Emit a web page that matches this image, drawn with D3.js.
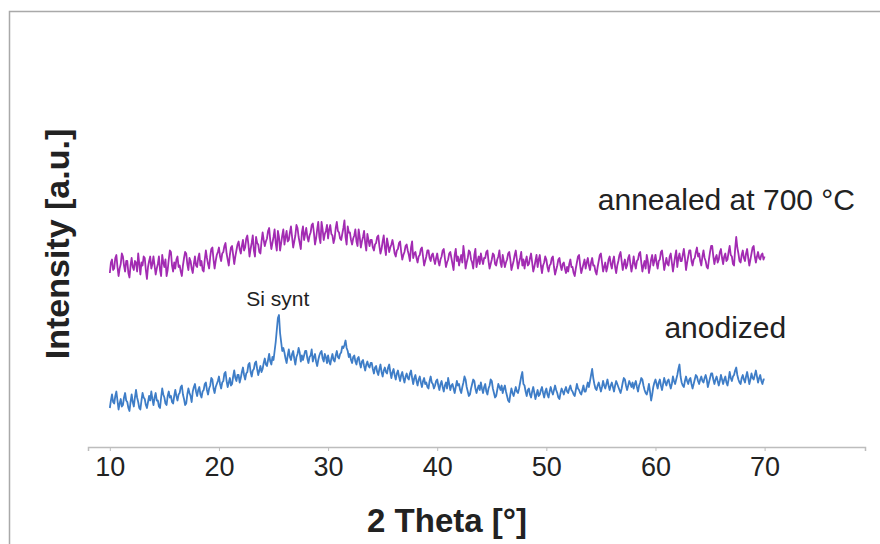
<!DOCTYPE html>
<html>
<head>
<meta charset="utf-8">
<script src="https://cdn.jsdelivr.net/npm/d3@7"></script>
<style>
  html, body { margin: 0; padding: 0; background: #fff; }
  svg { display: block; }
</style>
</head>
<body>
<svg id="chart"></svg>
<script>
// 2 theta from 10 to 70 deg, step 0.1
const thetaStart = 10, thetaStep = 0.1;
const xTicks = [10, 20, 30, 40, 50, 60, 70];

// annealed at 700 °C (intensity, a.u.), one row = 2 deg
const annealed = [
  116,123,125,118,119,126,128,120,114,119,122,129,127,121,117,124,124,116,113,121,
  126,120,118,124,123,117,129,122,115,123,121,127,126,118,112,120,124,127,119,122,
  127,121,115,119,122,127,118,114,128,123,120,125,114,118,125,131,130,121,117,123,
  119,125,127,120,121,117,114,121,126,130,129,122,118,126,124,119,116,122,127,121,
  120,126,129,121,124,118,117,125,131,126,122,119,127,132,133,125,119,124,128,130,
  133,127,124,129,130,134,136,129,125,121,128,133,134,128,122,127,131,135,137,132,
  129,134,138,131,133,139,141,135,127,132,136,141,131,127,140,136,135,130,129,137,
  143,138,134,137,139,144,146,138,132,136,140,145,136,131,144,140,131,136,141,145,
  135,140,144,137,138,143,147,140,133,137,141,148,146,140,136,132,143,147,138,142,
  146,140,137,141,143,148,149,143,135,139,145,150,140,136,150,145,138,142,144,148,
  139,145,148,142,141,136,139,146,150,144,143,139,138,142,146,151,140,135,147,143,
  143,138,135,139,141,145,137,134,145,140,133,137,140,144,136,131,142,138,134,138,
  138,133,131,135,136,140,141,134,129,132,137,141,133,128,139,135,130,133,135,138,
  134,129,127,131,132,136,137,130,125,128,130,134,135,131,128,124,133,137,126,129,
  130,126,123,127,128,132,133,127,121,124,127,131,131,126,124,128,129,125,122,126,
  129,124,121,125,127,131,132,126,120,123,125,129,130,126,122,118,128,132,124,127,
  121,125,128,123,134,128,119,123,126,131,130,125,123,119,128,132,120,124,127,122,
  129,125,122,126,126,130,131,124,119,122,125,129,128,122,121,125,127,131,123,120,
  128,124,120,123,125,129,130,125,118,121,124,128,131,125,119,123,126,130,121,125,
  119,124,127,121,122,126,129,123,117,120,124,128,120,125,128,121,116,121,123,127,
  125,120,117,121,122,126,127,120,115,118,121,125,126,121,118,122,123,119,116,120,
  117,122,125,120,120,116,114,119,123,127,128,121,116,119,122,125,119,123,126,121,
  118,123,126,121,121,117,115,120,124,128,129,123,117,120,123,117,120,125,127,122,
  119,124,127,120,116,121,124,128,130,124,118,122,125,119,121,126,128,122,117,121,
  127,122,119,124,125,129,130,123,117,121,124,119,128,124,116,120,125,128,121,124,
  128,123,119,124,125,130,131,125,118,122,126,122,121,127,129,123,117,122,127,131,
  120,126,129,124,124,128,132,126,118,123,127,131,131,124,121,125,126,130,133,127,
  129,124,121,127,131,126,124,120,119,125,130,134,134,127,122,126,128,123,125,130,
  132,126,122,127,129,124,125,130,134,128,127,122,121,132,140,133,129,124,123,128,
  131,126,124,129,132,126,121,125,129,133,134,127,123,127,130,126,125,128,129,125,
  127
];

// anodized (intensity, a.u.), one row = 2 deg
const anodized = [
  26,31,35,30,29,34,37,31,25,29,32,27,28,33,36,31,30,26,24,30,
  35,30,27,33,38,33,30,26,25,31,36,33,32,28,26,30,34,31,37,32,
  28,33,36,31,31,27,26,33,39,35,33,29,28,34,37,33,34,30,29,34,
  38,34,31,35,36,40,41,35,32,28,29,35,39,36,34,30,37,40,42,37,
  34,38,40,35,33,37,38,42,43,38,35,39,41,46,45,39,36,40,42,44,
  47,42,39,43,44,49,50,44,40,43,46,41,42,47,51,46,44,48,48,43,
  46,50,53,48,45,49,50,55,56,50,47,51,52,56,57,52,48,51,54,50,
  52,56,59,55,54,58,62,57,55,60,58,64,70,78,86,88,76,70,64,66,
  63,59,56,61,65,60,58,62,64,59,55,60,62,66,63,57,61,58,61,64,
  64,59,56,60,61,65,57,60,62,57,54,58,61,63,64,59,57,62,60,56,
  61,57,55,59,62,58,57,61,64,60,59,62,63,67,66,68,71,66,64,60,
  62,58,56,60,61,57,55,59,60,56,53,57,58,54,51,55,57,54,53,56,
  56,52,49,53,54,50,48,52,55,50,47,51,53,50,49,53,55,50,46,50,
  52,48,45,49,51,47,44,48,50,46,43,47,49,46,45,49,51,46,42,46,
  48,44,41,45,47,43,40,44,46,42,43,40,39,44,47,43,42,39,41,44,
  45,41,38,42,44,40,37,41,43,39,46,42,38,41,42,39,36,40,44,41,
  42,38,36,40,43,47,45,40,37,34,35,39,42,45,44,39,36,39,41,38,
  43,39,36,40,42,37,35,39,41,45,44,39,36,33,34,38,42,40,38,41,
  36,39,41,37,34,31,30,35,39,36,34,37,40,37,36,39,43,47,50,42,
  41,37,34,38,39,35,33,37,40,36,32,35,38,34,35,38,40,36,33,37,
  39,35,33,37,40,37,35,38,41,38,36,33,32,36,39,37,35,38,40,37,
  36,39,41,38,37,35,34,38,42,39,38,36,35,38,41,37,37,40,43,40,
  44,48,52,46,42,39,38,41,43,40,37,40,44,41,39,42,45,41,38,41,
  43,40,37,41,44,42,40,38,36,39,43,46,45,41,38,41,44,42,40,43,
  39,42,44,40,37,41,43,46,45,41,38,36,35,38,42,37,31,35,40,43,
  45,42,39,43,45,41,38,42,46,43,41,44,45,42,39,42,47,44,42,45,
  48,52,55,47,43,41,40,44,47,44,42,45,46,42,39,42,45,48,47,44,
  42,45,47,44,43,46,48,45,40,43,46,49,49,45,42,45,47,44,41,44,
  48,45,42,45,47,43,41,45,50,46,44,47,48,51,53,48,45,43,42,46,
  48,45,43,47,50,46,42,45,49,46,45,48,51,47,43,46,48,44,42,45,
  45
];

const seriesNames = ['annealed at 700 °C', 'anodized'];
const seriesColors = ['#a22bb2', '#3e7dc7'];

const width = 880, height = 544;

const svg = d3.select('#chart')
  .attr('width', width)
  .attr('height', height);

// outer frame
svg.append('rect')
  .attr('x', 9.5)
  .attr('y', 11.5)
  .attr('width', 900)
  .attr('height', 600)
  .attr('fill', 'none')
  .attr('stroke', '#a9a9a9')
  .attr('stroke-width', 1.5);

const x = d3.scaleLinear().domain([8, 79.2]).range([88, 865]);
const y = d3.scaleLinear().domain([0, 200]).range([447, 147]);

const toPoints = (arr) => arr.map((v, i) => ({theta: thetaStart + i * thetaStep, value: v}));

const line = d3.line()
  .x(d => x(d.theta))
  .y(d => y(d.value));

[annealed, anodized].forEach((arr, i) => {
  svg.append('path')
    .datum(toPoints(arr))
    .attr('fill', 'none')
    .attr('stroke', seriesColors[i])
    .attr('stroke-width', 1.8)
    .attr('stroke-linejoin', 'round')
    .attr('d', line);
});

// x axis
const xAxis = svg.append('g')
  .attr('transform', `translate(0, ${y(0)})`)
  .call(d3.axisBottom(x).tickValues(xTicks).tickSize(4).tickPadding(6));

xAxis.select('.domain')
  .attr('stroke', '#bdbdbd')
  .attr('stroke-width', 1.5);
xAxis.selectAll('.tick line')
  .attr('stroke', '#bdbdbd');
xAxis.selectAll('.tick text')
  .attr('fill', '#222')
  .style('font-family', '"Liberation Sans Narrow", "Arial Narrow", "Liberation Sans", Arial, sans-serif')
  .style('font-size', '27px');

// axis titles
svg.append('text')
  .attr('x', 447)
  .attr('y', 532)
  .attr('text-anchor', 'middle')
  .style('font-family', '"Liberation Sans", Arial, sans-serif')
  .style('font-weight', 'bold')
  .style('font-size', '33px')
  .attr('fill', '#222')
  .text('2 Theta [°]');

svg.append('text')
  .attr('transform', 'translate(69, 244) rotate(-90)')
  .attr('text-anchor', 'middle')
  .style('font-family', '"Liberation Sans", Arial, sans-serif')
  .style('font-weight', 'bold')
  .style('font-size', '34px')
  .attr('fill', '#222')
  .text('Intensity [a.u.]');

// series labels
const labels = [
  {text: seriesNames[0], theta: 66.5, value: 158, size: 30},
  {text: seriesNames[1], theta: 66.4, value: 72.5, size: 30},
  {text: 'Si synt', theta: 25.4, value: 94, size: 21}
];

svg.selectAll('.series-label')
  .data(labels)
  .enter()
  .append('text')
    .attr('class', 'series-label')
    .attr('x', d => x(d.theta))
    .attr('y', d => y(d.value))
    .attr('text-anchor', 'middle')
    .style('font-family', '"Liberation Sans", Arial, sans-serif')
    .style('font-size', d => d.size + 'px')
    .attr('fill', '#222')
    .text(d => d.text);
</script>
</body>
</html>
